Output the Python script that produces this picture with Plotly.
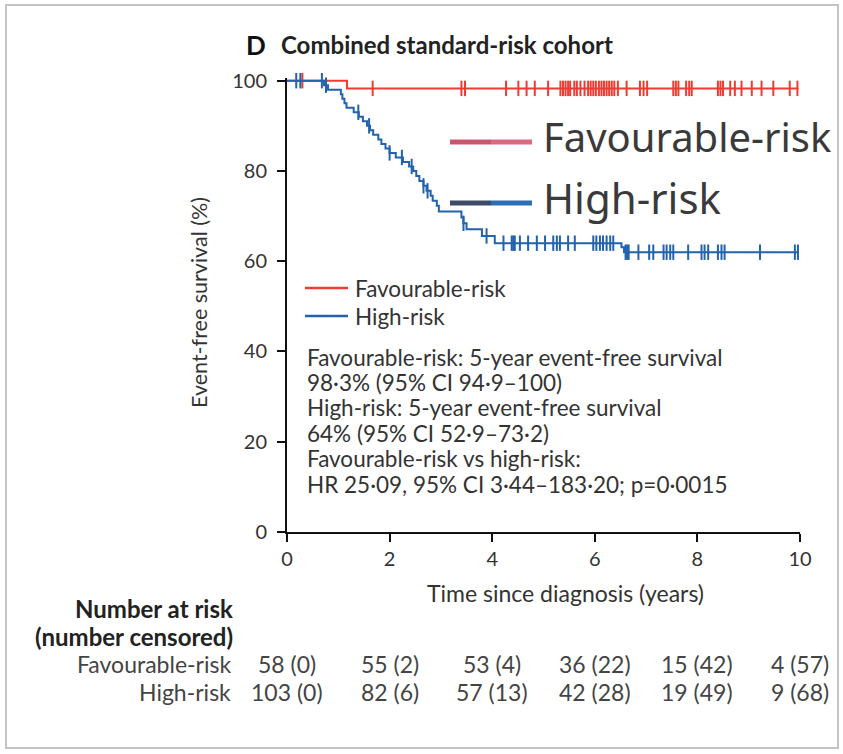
import numpy as np
import plotly.graph_objects as go

# ---- Kaplan-Meier step data (time in years, event-free survival in %) ----
fav_step_t = [0.0, 1.17, 9.97]
fav_step_s = [100.0, 98.3, 98.3]

high_step_t = [0.0, 0.72, 0.80, 1.05, 1.08, 1.12, 1.16, 1.30, 1.40, 1.48, 1.56,
               1.62, 1.68, 1.78, 1.84, 1.92, 2.00, 2.12, 2.26, 2.38, 2.46, 2.52,
               2.58, 2.66, 2.72, 2.80, 2.84, 2.92, 2.96, 3.40, 3.44, 3.50, 3.80,
               4.05, 6.52, 6.57, 9.97]
high_step_s = [100.0, 99.0, 98.0, 97.0, 96.0, 95.0, 94.0, 93.0, 92.0, 91.0, 90.0,
               89.0, 88.0, 87.0, 86.0, 85.0, 84.0, 83.0, 82.0, 81.0, 80.0, 78.9,
               77.8, 76.7, 75.6, 74.5, 73.4, 72.3, 71.0, 69.7, 68.4, 67.1, 65.6,
               64.0, 63.1, 62.0, 62.0]

# ---- censoring times ----
fav_censor_t = [0.30, 1.67, 3.40, 3.47,
                4.27, 4.51, 4.67, 4.83, 5.09, 5.33, 5.38, 5.43, 5.48, 5.52, 5.60,
                5.65, 5.72, 5.80, 5.87, 5.92, 5.97, 6.02,
                6.08, 6.13, 6.18, 6.23, 6.28, 6.33, 6.38, 6.45, 6.62, 6.88, 6.95,
                7.02, 7.53, 7.58, 7.63, 7.78, 7.84, 7.89,
                8.40, 8.45, 8.50, 8.64, 8.73, 8.86, 9.06, 9.25, 9.48, 9.80, 9.95]
high_censor_t = [0.18, 0.26, 0.68, 0.76, 1.39, 1.60,
                 2.00, 2.24, 2.43, 2.66, 2.74, 3.44, 3.89,
                 4.22, 4.38, 4.41, 4.44, 4.54, 4.70, 4.87, 5.03, 5.19, 5.26, 5.32,
                 5.48, 5.61, 5.97, 6.03, 6.10, 6.16, 6.23, 6.30, 6.36,
                 6.60, 6.63, 6.66, 6.85, 7.06, 7.14, 7.34, 7.40, 7.47, 7.53, 7.82,
                 8.08, 8.14, 8.21, 8.40, 8.47, 8.53, 9.22, 9.90, 9.96]

# ---- number at risk table ----
risk_times = [0, 2, 4, 6, 8, 10]
fav_at_risk = [58, 55, 53, 36, 15, 4]
fav_censored = [0, 2, 4, 22, 42, 57]
high_at_risk = [103, 82, 57, 42, 19, 9]
high_censored = [0, 6, 13, 28, 49, 68]

stats_lines = [
    "Favourable-risk: 5-year event-free survival",
    "98·3% (95% CI 94·9–100)",
    "High-risk: 5-year event-free survival",
    "64% (95% CI 52·9–73·2)",
    "Favourable-risk vs high-risk:",
    "HR 25·09, 95% CI 3·44–183·20; p=0·0015",
]

RED = "#ee3b33"
BLUE = "#2362ad"
TXT = "#333333"
FONT = "Lato"
BODY = 22.5

W, H = 843, 754
L, R, T, B = 287, 43, 78, 222
PW, PH = W - L - R, H - T - B


def px(x):
    return (x - L) / PW


def py(y):
    return (H - B - y) / PH


def surv_at(times, steps_t, steps_s):
    idx = np.searchsorted(np.asarray(steps_t), np.asarray(times), side="right") - 1
    return np.asarray(steps_s)[idx]


fig = go.Figure()

for st, ss, ct, col, name in [
    (fav_step_t, fav_step_s, fav_censor_t, RED, "Favourable-risk"),
    (high_step_t, high_step_s, high_censor_t, BLUE, "High-risk"),
]:
    fig.add_trace(go.Scatter(x=st, y=ss, mode="lines", line=dict(color=col, width=2, shape="hv"),
                             name=name, showlegend=False, hoverinfo="skip"))
    fig.add_trace(go.Scatter(x=ct, y=surv_at(ct, st, ss), mode="markers",
                             marker=dict(symbol="line-ns", size=11, line=dict(width=2, color=col)),
                             showlegend=False, cliponaxis=False, hoverinfo="skip"))

ann = []
shapes = []

# title
ann.append(dict(x=px(244), y=py(45), xref="paper", yref="paper", xanchor="left", yanchor="middle",
                text="<b>D</b>", showarrow=False, font=dict(family=FONT, size=26, color="#111")))
ann.append(dict(x=px(279), y=py(45), xref="paper", yref="paper", xanchor="left", yanchor="middle",
                text="<b>Combined standard-risk cohort</b>", showarrow=False,
                font=dict(family=FONT, size=24, color="#222")))

# axis titles
ann.append(dict(x=px(199), y=py(303), xref="paper", yref="paper", xanchor="center", yanchor="middle",
                text="Event-free survival (%)", textangle=-90, showarrow=False,
                font=dict(family=FONT, size=21.5, color=TXT)))
ann.append(dict(x=px(565), y=py(593), xref="paper", yref="paper", xanchor="center", yanchor="middle",
                text="Time since diagnosis (years)", showarrow=False,
                font=dict(family=FONT, size=BODY + 0.5, color=TXT)))

# large overlay legend
for label, ypos, size, cols in [("Favourable-risk", 142, 40, ["#c9566f", "#d86a82"]),
                                ("High-risk", 203, 42, ["#3d4c66", "#2d6db3"])]:
    shapes.append(dict(type="line", xref="paper", yref="paper", x0=px(450), x1=px(491),
                       y0=py(ypos), y1=py(ypos), line=dict(color=cols[0], width=5)))
    shapes.append(dict(type="line", xref="paper", yref="paper", x0=px(491), x1=px(532),
                       y0=py(ypos), y1=py(ypos), line=dict(color=cols[1], width=5)))
    ann.append(dict(x=px(541), y=py(ypos - 6), xref="paper", yref="paper", xanchor="left",
                    yanchor="middle", text=label, showarrow=False,
                    font=dict(family="Noto Sans", size=size, color="#3a3a3a")))

# small legend
for label, ypos, col in [("Favourable-risk", 288, RED), ("High-risk", 316, BLUE)]:
    shapes.append(dict(type="line", xref="paper", yref="paper", x0=px(305), x1=px(348),
                       y0=py(ypos), y1=py(ypos), line=dict(color=col, width=2.5)))
    ann.append(dict(x=px(353), y=py(ypos), xref="paper", yref="paper", xanchor="left",
                    yanchor="middle", text=label, showarrow=False,
                    font=dict(family=FONT, size=BODY, color=TXT)))

# statistics text
for i, line in enumerate(stats_lines):
    ann.append(dict(x=px(305), y=py(357 + 25.4 * i), xref="paper", yref="paper", xanchor="left",
                    yanchor="middle", text=line, showarrow=False,
                    font=dict(family=FONT, size=BODY, color=TXT)))

# number at risk table
ann.append(dict(x=px(235), y=py(608), xref="paper", yref="paper", xanchor="right", yanchor="middle",
                text="<b>Number at risk</b>", showarrow=False, font=dict(family=FONT, size=24, color="#222")))
ann.append(dict(x=px(235), y=py(636), xref="paper", yref="paper", xanchor="right", yanchor="middle",
                text="<b>(number censored)</b>", showarrow=False, font=dict(family=FONT, size=24, color="#222")))
for label, ypos, nar, ncen in [("Favourable-risk", 664, fav_at_risk, fav_censored),
                               ("High-risk", 692, high_at_risk, high_censored)]:
    ann.append(dict(x=px(233), y=py(ypos), xref="paper", yref="paper", xanchor="right",
                    yanchor="middle", text=label, showarrow=False,
                    font=dict(family=FONT, size=BODY + 0.5, color="#444")))
    for t, n, c in zip(risk_times, nar, ncen):
        ann.append(dict(x=t, y=py(ypos), xref="x", yref="paper", xanchor="center", yanchor="middle",
                        text=f"{n} ({c})", showarrow=False,
                        font=dict(family=FONT, size=BODY + 0.5, color="#444")))

# outer frame
shapes.append(dict(type="rect", xref="paper", yref="paper", x0=px(6), x1=px(838), y0=py(5), y1=py(748),
                   line=dict(color="#c4c4c4", width=2), layer="below"))

fig.update_layout(
    width=W, height=H,
    margin=dict(l=L, r=R, t=T, b=B),
    paper_bgcolor="white", plot_bgcolor="white",
    showlegend=False,
    annotations=ann, shapes=shapes,
    xaxis=dict(range=[0, 10], tickvals=[0, 2, 4, 6, 8, 10], showline=True, linecolor="#111",
               linewidth=2, ticks="outside", ticklen=8, tickwidth=2, tickcolor="#111",
               showgrid=False, zeroline=False, tickfont=dict(family=FONT, size=20, color=TXT)),
    yaxis=dict(range=[0, 100.6], tickvals=[0, 20, 40, 60, 80, 100], showline=True, linecolor="#111",
               linewidth=2, ticks="outside", ticklen=8, tickwidth=2, tickcolor="#111",
               ticklabelstandoff=6,
               showgrid=False, zeroline=False, tickfont=dict(family=FONT, size=20, color=TXT)),
)

fig.write_html("out.html")
